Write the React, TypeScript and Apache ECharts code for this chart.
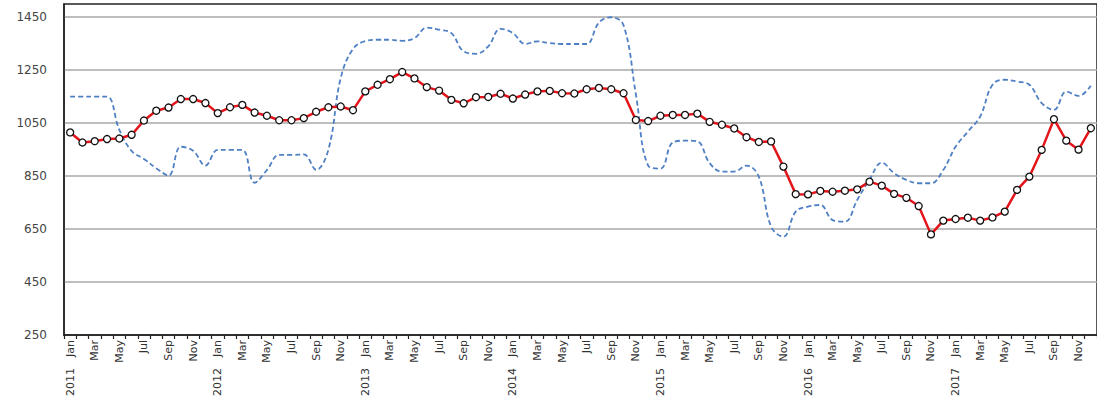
import React, { useEffect, useRef } from "react";
import * as echarts from "echarts";

const monthNames = ["Jan", "Feb", "Mar", "Apr", "May", "Jun", "Jul", "Aug", "Sep", "Oct", "Nov", "Dec"];
const years = [2011, 2012, 2013, 2014, 2015, 2016, 2017];

// red line with round markers
const priceValues = [
  1015, 977, 982, 990, 992, 1006, 1060, 1097, 1109, 1141, 1141, 1126,
  1088, 1110, 1119, 1090, 1078, 1061, 1061, 1069, 1093, 1110, 1113, 1099,
  1170, 1195, 1216, 1243, 1219, 1186, 1173, 1138, 1125, 1148, 1149, 1161,
  1143, 1158, 1170, 1172, 1163, 1162, 1178, 1183, 1178, 1163, 1062, 1058,
  1078, 1081, 1081, 1086, 1055, 1044, 1030, 997, 979, 981, 886, 782,
  781, 794, 791, 795, 800, 829, 814, 783, 768, 737, 630, 682,
  688, 693, 682, 694, 716, 798, 848, 949, 1065, 984, 950, 1031,
];

// blue dashed smooth line
const otherValues = [
  1150, 1150, 1150, 1150, 1025, 945, 915, 880, 852, 961, 946, 890,
  949, 949, 949, 825, 873, 930, 930, 932, 874, 950, 1220, 1330,
  1360, 1365, 1365, 1361, 1371, 1411, 1403, 1390, 1321, 1312, 1340, 1406,
  1390, 1349, 1359, 1352, 1349, 1349, 1349, 1430, 1450, 1420, 1160, 890,
  878, 977, 984, 981, 899, 867, 867, 890, 848, 659, 621, 716,
  735, 741, 684, 678, 760, 836, 901, 861, 836, 823, 823, 873,
  961, 1018, 1075, 1195, 1214, 1207, 1195, 1126, 1100, 1169, 1153, 1191,
];

const yMin = 250;
const yMax = 1500;
const yStep = 200;

const categories: string[] = [];
years.forEach((y) => monthNames.forEach((m) => categories.push(y + " " + m)));

const App = () => {
  const chartRef = useRef<HTMLDivElement>(null);

  useEffect(() => {
    if (!chartRef.current) return;
    const chart = echarts.init(chartRef.current, undefined, { renderer: "svg" });

    const font = "DejaVu Sans";

    const option: echarts.EChartsOption = {
      animation: false,
      backgroundColor: "#ffffff",
      textStyle: { fontFamily: font },
      grid: {
        left: 64,
        right: -2,
        top: 4,
        bottom: 65,
        show: true,
        borderColor: "#222",
        borderWidth: 1.5,
      },
      xAxis: [
        {
          type: "category",
          data: categories,
          boundaryGap: true,
          axisLine: { show: true, lineStyle: { color: "#222", width: 1.5 } },
          axisTick: { show: true, interval: 0, length: 4, lineStyle: { color: "#222", width: 1.2 } },
          axisLabel: {
            interval: 1,
            rotate: 90,
            margin: 5,
            fontSize: 11,
            color: "#333",
            fontFamily: font,
            formatter: (v: string) => v.split(" ")[1],
          },
          splitLine: { show: false },
        },
        {
          type: "category",
          data: categories,
          position: "bottom",
          boundaryGap: true,
          axisLine: { show: false },
          axisTick: { show: false },
          axisLabel: {
            interval: 0,
            rotate: 90,
            margin: 33,
            fontSize: 11,
            color: "#333",
            fontFamily: font,
            formatter: (v: string) => (v.endsWith("Jan") ? v.split(" ")[0] : ""),
          },
          splitLine: { show: false },
        },
      ],
      yAxis: {
        type: "value",
        min: yMin,
        max: yMax,
        interval: yStep,
        axisLine: { show: true, lineStyle: { color: "#222", width: 1.5 } },
        axisTick: { show: false },
        axisLabel: {
          showMaxLabel: false,
          margin: 17,
          fontSize: 12,
          color: "#444",
          fontFamily: font,
          formatter: (v: number) => String(v),
        },
        splitLine: {
          show: true,
          showMaxLine: false,
          showMinLine: false,
          lineStyle: { color: "#a8a8a8", width: 1.5 },
        },
      },
      series: [
        {
          name: "other",
          type: "line",
          data: otherValues,
          smooth: 0.4,
          showSymbol: false,
          symbol: "none",
          lineStyle: { color: "#4f80c4", width: 1.8, type: [5, 3] },
          z: 2,
        },
        {
          name: "price",
          type: "line",
          data: priceValues,
          symbol: "circle",
          symbolSize: 7,
          lineStyle: { color: "#e3151b", width: 2.5 },
          itemStyle: { color: "#ffffff", borderColor: "#111", borderWidth: 1.3 },
          z: 3,
        },
      ],
    };

    chart.setOption(option);

    return () => {
      chart.dispose();
    };
  }, []);

  return (
    <div
      ref={chartRef}
      style={{ position: "fixed", left: 0, top: 0, width: "1097px", height: "400px" }}
    />
  );
};

export default App;
